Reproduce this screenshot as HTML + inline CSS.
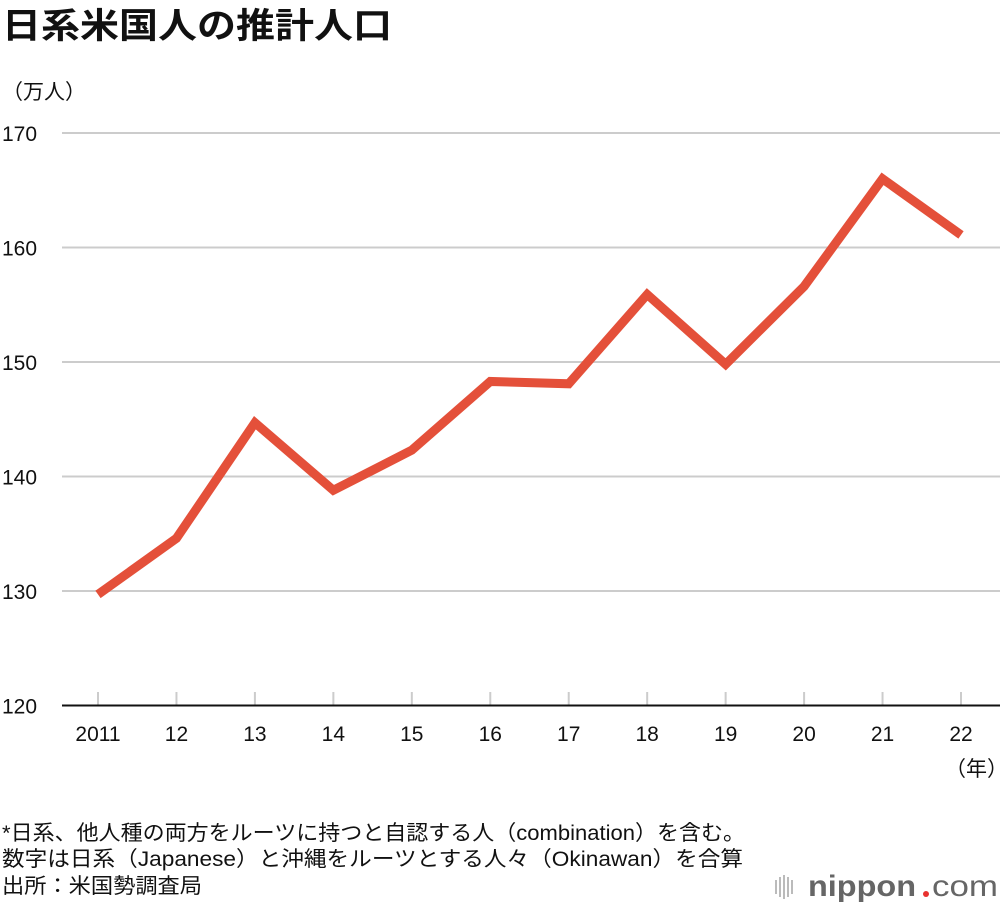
<!DOCTYPE html>
<html><head><meta charset="utf-8"><style>
body{margin:0;background:#fff;width:1000px;height:912px;overflow:hidden;font-family:"Liberation Sans","Noto Sans CJK JP",sans-serif;}
svg text{font-family:"Liberation Sans","Noto Sans CJK JP",sans-serif;}
</style></head><body>
<svg id="chart" width="1000" height="912" viewBox="0 0 1000 912">
<text x="2" y="38" font-size="35" font-weight="bold" fill="#111" textLength="390" lengthAdjust="spacingAndGlyphs">日系米国人の推計人口</text>
<text x="2" y="99" font-size="21" fill="#111">（万人）</text>
<g id="grid"></g>
<g id="xaxis"></g>
<g id="series"></g>
<text x="945" y="776" font-size="21" fill="#111">（年）</text>
<text x="2" y="840" font-size="21" fill="#111" textLength="743" lengthAdjust="spacingAndGlyphs">*日系、他人種の両方をルーツに持つと自認する人（combination）を含む。</text>
<text x="2" y="866" font-size="21" fill="#111" textLength="741" lengthAdjust="spacingAndGlyphs">数字は日系（Japanese）と沖縄をルーツとする人々（Okinawan）を合算</text>
<text x="2" y="893" font-size="21" fill="#111" textLength="200" lengthAdjust="spacingAndGlyphs">出所：米国勢調査局</text>
<g>
<rect x="775" y="880" width="2" height="14" fill="#bbb"/><rect x="779" y="877" width="2" height="20" fill="#bbb"/><rect x="783" y="875" width="2" height="24" fill="#bbb"/><rect x="787" y="877" width="2" height="20" fill="#bbb"/><rect x="791" y="880" width="2" height="14" fill="#bbb"/>
<text x="808" y="896" font-size="30" font-weight="bold" fill="#666" textLength="108" lengthAdjust="spacingAndGlyphs">nippon</text>
<circle cx="926" cy="894" r="3" fill="#e8322f"/>
<text x="932" y="896" font-size="30" fill="#666" textLength="66" lengthAdjust="spacingAndGlyphs">com</text>
</g>
</svg>
<script>
const years=["2011","12","13","14","15","16","17","18","19","20","21","22"];
const population=[129.7,134.6,144.7,138.8,142.3,148.3,148.1,155.9,149.8,156.6,166.0,161.1];
const yTicks=[120,130,140,150,160,170];
const NS="http://www.w3.org/2000/svg";
const x=i=>98+i*(961-98)/11;
const y=v=>705.5-(v-120)*(705.5-133)/50;
function mk(tag,attrs,parent){const e=document.createElementNS(NS,tag);for(const k in attrs)e.setAttribute(k,attrs[k]);parent.appendChild(e);return e;}
const grid=document.getElementById('grid'),xa=document.getElementById('xaxis'),se=document.getElementById('series');
yTicks.forEach(t=>{
 if(t!==120){const l=mk('line',{x1:62,x2:1000,y1:y(t),y2:y(t),stroke:'#ccc','stroke-width':2},grid);
 
 }
 const tx=mk('text',{x:2,y:y(t)+8,'font-size':21,fill:'#111'},grid);tx.textContent=t;
 
 
});
years.forEach((yr,i)=>{
 const tk=mk('line',{x1:x(i),x2:x(i),y1:692,y2:705,stroke:'#ccc','stroke-width':2},xa);
 
 
 const tx=mk('text',{x:x(i),y:741,'font-size':21,fill:'#111','text-anchor':'middle'},xa);tx.textContent=yr;
 
 
});
const ax=mk('line',{x1:62,x2:1000,y1:705.5,y2:705.5,stroke:'#111','stroke-width':2},xa);


const pl=mk('polyline',{points:population.map((v,i)=>x(i)+','+y(v)).join(' '),fill:'none',stroke:'#e4503a','stroke-width':9,'stroke-linejoin':'miter','stroke-linecap':'butt'},se);


</script>
</body></html>
